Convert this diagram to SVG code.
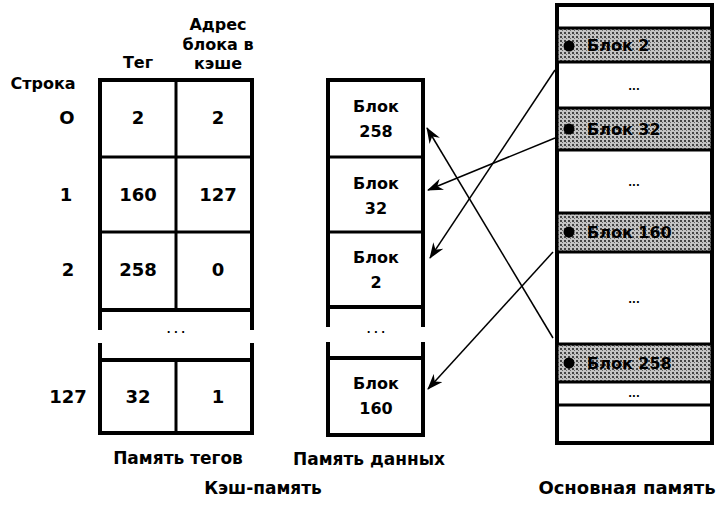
<svg xmlns="http://www.w3.org/2000/svg" width="720" height="505" viewBox="0 0 720 505">
<defs>
<pattern id="dots" width="4" height="4" patternUnits="userSpaceOnUse">
<rect width="4" height="4" fill="#c4c4c4"/>
<rect x="0" y="0" width="2" height="2" fill="#444"/>
<rect x="2" y="2" width="1" height="1" fill="#666"/>
</pattern>
<marker id="arr" viewBox="0 0 16 12" refX="15" refY="6" markerWidth="16" markerHeight="12" markerUnits="userSpaceOnUse" orient="auto">
<path d="M0,0 L16,6 L0,12 L5,6 Z" fill="#000"/>
</marker>
</defs>
<style>
text{font-family:"DejaVu Sans","Liberation Sans",Arial,sans-serif;font-weight:bold;fill:#000}
.v{font-size:18px;text-anchor:middle}
.b{font-size:16px;text-anchor:middle}
.m{font-size:16px}
.h{font-size:16px;text-anchor:middle}
.lbl{font-size:17px;text-anchor:middle}
.thick{stroke:#000;stroke-width:4;fill:none}
.thin{stroke:#000;stroke-width:3;fill:none}
.shade{fill:url(#dots);stroke:#000;stroke-width:3}
.dots{font-size:10px;text-anchor:middle}
.conn{stroke:#000;stroke-width:1.5;fill:none;marker-end:url(#arr)}
</style>
<rect width="720" height="505" fill="#fff"/>

<g id="headers">
<text class="h" x="43" y="89">Строка</text>
<text class="h" x="138" y="68">Тег</text>
<text class="h" x="218" y="30">Адрес</text>
<text class="h" x="218" y="50">блока в</text>
<text class="h" x="218" y="69">кэше</text>
</g>

<g id="row-labels">
<text class="v" x="67" y="124">О</text>
<text class="v" x="66" y="201">1</text>
<text class="v" x="68" y="276">2</text>
<text class="v" x="68" y="403">127</text>
</g>

<g id="tag-memory">
<rect class="thick" x="100" y="80" width="152" height="230"/>
<line class="thin" x1="100" y1="157" x2="252" y2="157"/>
<line class="thin" x1="100" y1="232" x2="252" y2="232"/>
<line class="thin" x1="176" y1="80" x2="176" y2="310"/>
<line class="thick" x1="100" y1="310" x2="100" y2="330"/>
<line class="thick" x1="252" y1="310" x2="252" y2="330"/>
<line class="thick" x1="100" y1="343" x2="100" y2="360"/>
<line class="thick" x1="252" y1="343" x2="252" y2="360"/>
<text class="dots" x="176" y="333">. . .</text>
<rect class="thick" x="100" y="360" width="152" height="73"/>
<line class="thin" x1="176" y1="360" x2="176" y2="433"/>
<text class="v" x="138" y="124">2</text>
<text class="v" x="218" y="124">2</text>
<text class="v" x="138" y="201">160</text>
<text class="v" x="218" y="201">127</text>
<text class="v" x="138" y="276">258</text>
<text class="v" x="218" y="276">0</text>
<text class="v" x="138" y="403">32</text>
<text class="v" x="218" y="403">1</text>
</g>

<g id="data-memory">
<rect class="thick" x="328" y="80" width="95" height="227"/>
<line class="thin" x1="328" y1="157" x2="423" y2="157"/>
<line class="thin" x1="328" y1="232" x2="423" y2="232"/>
<line class="thick" x1="328" y1="307" x2="328" y2="327"/>
<line class="thick" x1="423" y1="307" x2="423" y2="327"/>
<line class="thick" x1="328" y1="342" x2="328" y2="358"/>
<line class="thick" x1="423" y1="342" x2="423" y2="358"/>
<text class="dots" x="376" y="333">. . .</text>
<rect class="thick" x="328" y="358" width="95" height="77"/>
<text class="b" x="376" y="112">Блок</text>
<text class="b" x="376" y="137">258</text>
<text class="b" x="376" y="189">Блок</text>
<text class="b" x="376" y="214">32</text>
<text class="b" x="376" y="263">Блок</text>
<text class="b" x="376" y="288">2</text>
<text class="b" x="376" y="389">Блок</text>
<text class="b" x="376" y="414">160</text>
</g>

<g id="main-memory">
<rect class="thick" x="557" y="5" width="155" height="438"/>
<rect class="shade" x="557" y="28" width="155" height="34"/>
<rect class="shade" x="557" y="108" width="155" height="42"/>
<rect class="shade" x="557" y="213" width="155" height="39"/>
<rect class="shade" x="557" y="344" width="155" height="38"/>
<line class="thin" x1="557" y1="405" x2="712" y2="405"/>
<circle cx="569" cy="46" r="5.5" fill="#000"/>
<circle cx="569" cy="129" r="5.5" fill="#000"/>
<circle cx="569" cy="232" r="5.5" fill="#000"/>
<circle cx="569" cy="363" r="5.5" fill="#000"/>
<text class="m" x="587" y="51">Блок 2</text>
<text class="m" x="587" y="135">Блок 32</text>
<text class="m" x="587" y="238">Блок 160</text>
<text class="m" x="587" y="369">Блок 258</text>
<text class="dots" x="634" y="90">...</text>
<text class="dots" x="634" y="186">...</text>
<text class="dots" x="634" y="303">...</text>
<text class="dots" x="634" y="397">...</text>
</g>

<g id="connectors">
<line class="conn" x1="555" y1="70" x2="430" y2="258"/>
<line class="conn" x1="555" y1="138" x2="428" y2="190"/>
<line class="conn" x1="553" y1="338" x2="427" y2="128"/>
<line class="conn" x1="553" y1="252" x2="428" y2="389"/>
</g>

<g id="captions">
<text class="lbl" x="178" y="464">Память тегов</text>
<text class="lbl" x="369" y="465">Память данных</text>
<text class="lbl" x="263" y="494">Кэш-память</text>
<text class="lbl" x="627" y="494" style="font-size:18px">Основная память</text>
</g>
</svg>
